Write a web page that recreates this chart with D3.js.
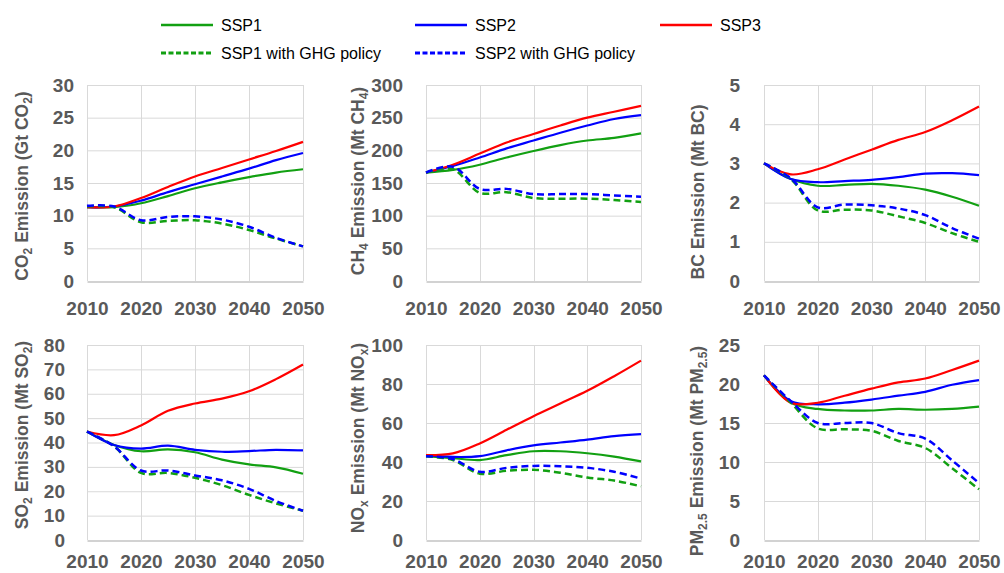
<!DOCTYPE html>
<html>
<head>
<meta charset="utf-8">
<script src="https://cdn.jsdelivr.net/npm/d3@7"></script>
<style>
  html, body { margin: 0; padding: 0; background: #fff; }
  svg { display: block; }
</style>
</head>
<body>
<svg id="chart" width="1004" height="573"></svg>
<script>
// ---------------- DATA ----------------
const years = [2010, 2015, 2020, 2025, 2030, 2035, 2040, 2045, 2050];
const xTicks = [2010, 2020, 2030, 2040, 2050];

const seriesNames = ["SSP1", "SSP2", "SSP3", "SSP1 with GHG policy", "SSP2 with GHG policy"];

// CO2 (Gt CO2)
const co2_ssp1    = [11.3, 11.3, 11.9, 13.0, 14.2, 15.1, 15.9, 16.6, 17.1];
const co2_ssp2    = [11.3, 11.4, 12.3, 13.6, 14.8, 16.0, 17.2, 18.5, 19.6];
const co2_ssp3    = [11.3, 11.4, 12.7, 14.4, 16.0, 17.3, 18.6, 19.9, 21.3];
const co2_ssp1ghg = [11.4, 11.3, 9.0, 9.2, 9.3, 8.8, 7.8, 6.5, 5.3];
const co2_ssp2ghg = [11.5, 11.4, 9.3, 9.8, 9.9, 9.4, 8.3, 6.6, 5.3];

// CH4 (Mt CH4)
const ch4_ssp1    = [166, 170, 178, 189, 199, 208, 215, 219, 226];
const ch4_ssp2    = [166, 176, 189, 203, 215, 227, 238, 248, 254];
const ch4_ssp3    = [166, 178, 195, 212, 225, 238, 250, 259, 268];
const ch4_ssp1ghg = [166, 171, 135, 136, 127, 126, 126, 124, 121];
const ch4_ssp2ghg = [166, 175, 141, 141, 133, 133, 133, 131, 129];

// BC (Mt BC)
const bc_ssp1    = [3.0, 2.6, 2.43, 2.45, 2.48, 2.43, 2.33, 2.15, 1.92];
const bc_ssp2    = [3.0, 2.6, 2.52, 2.55, 2.58, 2.65, 2.74, 2.75, 2.70];
const bc_ssp3    = [3.0, 2.72, 2.85, 3.1, 3.35, 3.6, 3.8, 4.1, 4.45];
const bc_ssp1ghg = [3.0, 2.6, 1.8, 1.82, 1.8, 1.65, 1.48, 1.22, 1.0];
const bc_ssp2ghg = [3.0, 2.62, 1.88, 1.95, 1.93, 1.85, 1.68, 1.35, 1.08];

// SO2 (Mt SO2)
const so2_ssp1    = [44.5, 39.0, 36.4, 37.2, 36.0, 33.0, 31.0, 29.8, 27.2];
const so2_ssp2    = [44.5, 39.0, 37.5, 38.7, 37.0, 36.2, 36.5, 37.0, 36.8];
const so2_ssp3    = [44.5, 43.0, 47.0, 53.0, 56.0, 58.0, 61.0, 66.0, 72.0];
const so2_ssp1ghg = [44.5, 38.5, 27.5, 27.5, 25.5, 22.5, 18.5, 15.0, 12.0];
const so2_ssp2ghg = [44.5, 38.5, 28.5, 28.5, 26.5, 24.5, 21.0, 16.0, 12.0];

// NOx (Mt NOx)
const nox_ssp1    = [43.0, 42.0, 41.0, 43.5, 45.5, 45.5, 44.5, 42.8, 40.3];
const nox_ssp2    = [43.5, 42.6, 43.0, 46.0, 48.5, 50.0, 51.5, 53.3, 54.3];
const nox_ssp3    = [43.5, 44.4, 49.5, 56.5, 63.5, 70.0, 76.5, 84.0, 92.0];
const nox_ssp1ghg = [43.0, 41.0, 34.0, 35.5, 36.0, 34.5, 32.0, 30.5, 27.5];
const nox_ssp2ghg = [43.0, 41.5, 35.0, 37.0, 38.0, 37.8, 37.0, 35.0, 31.5];

// PM2.5 (Mt PM2.5)
const pm_ssp1    = [21.1, 17.6, 16.8, 16.6, 16.6, 16.8, 16.7, 16.8, 17.1];
const pm_ssp2    = [21.1, 17.8, 17.4, 17.6, 18.0, 18.5, 19.0, 19.9, 20.5];
const pm_ssp3    = [21.1, 17.6, 17.6, 18.5, 19.4, 20.2, 20.7, 21.8, 23.0];
const pm_ssp1ghg = [21.1, 17.6, 14.3, 14.2, 14.0, 12.7, 11.8, 9.2, 6.5];
const pm_ssp2ghg = [21.1, 17.8, 15.0, 15.0, 15.0, 13.7, 13.0, 10.2, 7.3];

// Y-axis ticks
const co2Ticks = [0, 5, 10, 15, 20, 25, 30];
const ch4Ticks = [0, 50, 100, 150, 200, 250, 300];
const bcTicks  = [0, 1, 2, 3, 4, 5];
const so2Ticks = [0, 10, 20, 30, 40, 50, 60, 70, 80];
const noxTicks = [0, 20, 40, 60, 80, 100];
const pmTicks  = [0, 5, 10, 15, 20, 25];

// Axis titles: [text, isSubscript]
const co2Title = [["CO", 0], ["2", 1], [" Emission (Gt CO", 0], ["2", 1], [")", 0]];
const ch4Title = [["CH", 0], ["4", 1], [" Emission (Mt CH", 0], ["4", 1], [")", 0]];
const bcTitle  = [["BC Emission (Mt BC)", 0]];
const so2Title = [["SO", 0], ["2", 1], [" Emission (Mt SO", 0], ["2", 1], [")", 0]];
const noxTitle = [["NO", 0], ["x", 1], [" Emission (Mt NO", 0], ["x", 1], [")", 0]];
const pmTitle  = [["PM", 0], ["2.5", 1], [" Emission (Mt PM", 0], ["2.5", 1], [")", 0]];

// ---------------- STYLE / LAYOUT ----------------
const colors = ["#12a012", "#0000ff", "#ff0000", "#12a012", "#0000ff"];
const dashed = [false, false, false, true, true];

const cols = [{x0: 87, x1: 303}, {x0: 426, x1: 641}, {x0: 764, x1: 979}];
const rows = [{y0: 85, y1: 281, pad: 20}, {y0: 345, y1: 540, pad: 14}];

const panels = [
  {col: 0, row: 0, ticks: co2Ticks, title: co2Title, series: [co2_ssp1, co2_ssp2, co2_ssp3, co2_ssp1ghg, co2_ssp2ghg], gap: 13, tx: 22,  tcy: 186},
  {col: 1, row: 0, ticks: ch4Ticks, title: ch4Title, series: [ch4_ssp1, ch4_ssp2, ch4_ssp3, ch4_ssp1ghg, ch4_ssp2ghg], gap: 23, tx: 358, tcy: 181},
  {col: 2, row: 0, ticks: bcTicks,  title: bcTitle,  series: [bc_ssp1, bc_ssp2, bc_ssp3, bc_ssp1ghg, bc_ssp2ghg],       gap: 24, tx: 698, tcy: 192},
  {col: 0, row: 1, ticks: so2Ticks, title: so2Title, series: [so2_ssp1, so2_ssp2, so2_ssp3, so2_ssp1ghg, so2_ssp2ghg], gap: 22, tx: 22,  tcy: 435},
  {col: 1, row: 1, ticks: noxTicks, title: noxTitle, series: [nox_ssp1, nox_ssp2, nox_ssp3, nox_ssp1ghg, nox_ssp2ghg], gap: 23, tx: 358, tcy: 438},
  {col: 2, row: 1, ticks: pmTicks,  title: pmTitle,  series: [pm_ssp1, pm_ssp2, pm_ssp3, pm_ssp1ghg, pm_ssp2ghg],       gap: 24, tx: 697, tcy: 451}
];

const svg = d3.select("#chart");
const tickFont = "'Liberation Sans', Arial, sans-serif";
const gray = "#595959";

panels.forEach(p => {
  const c = cols[p.col], r = rows[p.row];
  const x = d3.scaleLinear().domain([2010, 2050]).range([c.x0, c.x1]);
  const y = d3.scaleLinear().domain([0, d3.max(p.ticks)]).range([r.y1, r.y0]);
  const g = svg.append("g");

  // horizontal gridlines
  g.selectAll(".hg").data(p.ticks.filter(t => t > 0)).join("line")
    .attr("x1", c.x0).attr("x2", c.x1)
    .attr("y1", d => y(d) + 0.5).attr("y2", d => y(d) + 0.5)
    .attr("stroke", "#d9d9d9").attr("stroke-width", 1);
  // vertical gridlines
  g.selectAll(".vg").data(xTicks).join("line")
    .attr("x1", d => Math.round(x(d)) + 0.5).attr("x2", d => Math.round(x(d)) + 0.5)
    .attr("y1", r.y0).attr("y2", r.y1)
    .attr("stroke", "#d9d9d9").attr("stroke-width", 1);

  // bottom axis
  const xAxis = d3.axisBottom(x).tickValues(xTicks).tickFormat(d3.format("d")).tickSize(0).tickPadding(r.pad);
  const ax = g.append("g").attr("transform", `translate(0,${Math.round(y(0)) + 0.5})`).call(xAxis);
  ax.select(".domain").attr("stroke", "#a6a6a6").attr("stroke-width", 1.2);
  ax.selectAll("text").attr("fill", gray).attr("font-family", tickFont)
    .attr("font-weight", "bold").attr("font-size", 19);

  // left axis labels
  const yAxis = d3.axisLeft(y).tickValues(p.ticks).tickFormat(d => String(d)).tickSize(0).tickPadding(p.gap);
  const ay = g.append("g").attr("transform", `translate(${c.x0},0)`).call(yAxis);
  ay.select(".domain").remove();
  ay.selectAll("text").attr("fill", gray).attr("font-family", tickFont)
    .attr("font-weight", "bold").attr("font-size", 19);

  // axis title
  const t = g.append("text")
    .attr("transform", `translate(${p.tx + 6},${p.tcy}) rotate(-90)`)
    .attr("text-anchor", "middle")
    .attr("fill", gray).attr("font-family", tickFont)
    .attr("font-weight", "bold").attr("font-size", 17.5);
  let shifted = false;
  p.title.forEach(([txt, sub]) => {
    const ts = t.append("tspan").text(txt);
    if (sub) { ts.attr("font-size", 12).attr("dy", 4); shifted = true; }
    else if (shifted) { ts.attr("dy", -4); shifted = false; }
  });

  // lines
  const line = d3.line().x((d, i) => x(years[i])).y(d => y(d)).curve(d3.curveCatmullRom.alpha(0.5));
  p.series.forEach((s, i) => {
    g.append("path").datum(s)
      .attr("d", line)
      .attr("fill", "none")
      .attr("stroke", colors[i])
      .attr("stroke-width", dashed[i] ? 2.5 : 2.2)
      .attr("stroke-dasharray", dashed[i] ? "7,4" : null)
      .attr("stroke-linejoin", "round");
  });
});

// ---------------- LEGEND ----------------
const legendPos = [
  {x: 161, y: 25}, {x: 415, y: 25}, {x: 660, y: 25},
  {x: 161, y: 53}, {x: 415, y: 53}
];
const lg = svg.append("g");
seriesNames.forEach((name, i) => {
  const lp = legendPos[i];
  lg.append("line")
    .attr("x1", lp.x).attr("x2", lp.x + 52)
    .attr("y1", lp.y).attr("y2", lp.y)
    .attr("stroke", colors[i])
    .attr("stroke-width", dashed[i] ? 3 : 2.5)
    .attr("stroke-dasharray", dashed[i] ? "5,2.5" : null);
  lg.append("text")
    .attr("x", lp.x + 60).attr("y", lp.y)
    .attr("dy", "0.35em")
    .attr("font-family", tickFont)
    .attr("font-size", 16)
    .attr("fill", "#000")
    .text(name);
});
</script>
</body>
</html>
